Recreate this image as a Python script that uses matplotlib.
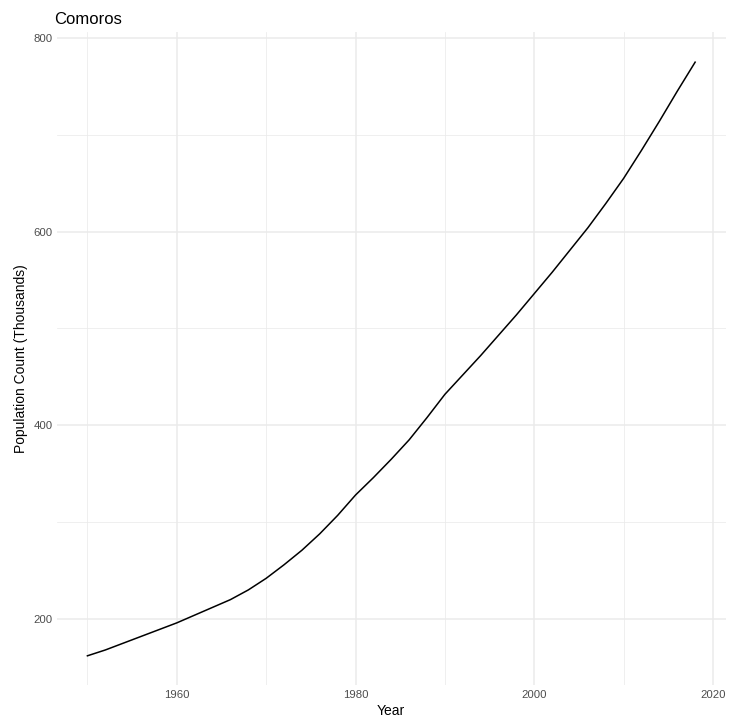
import matplotlib
matplotlib.use("Agg")
from matplotlib import pyplot as plt
from matplotlib.ticker import MultipleLocator


# Population of Comoros (thousands)
years = [1950, 1952, 1954, 1956, 1958, 1960, 1962, 1964, 1966, 1968,
         1970, 1972, 1974, 1976, 1978, 1980, 1982, 1984, 1986, 1988,
         1990, 1992, 1994, 1996, 1998, 2000, 2002, 2004, 2006, 2008,
         2010, 2012, 2014, 2016, 2018]
population = [162, 168, 175, 182, 189, 196, 204, 212, 220, 230,
              242, 256, 271, 288, 307, 328, 346, 365, 385, 408,
              432, 452, 472, 493, 514, 536, 558, 581, 604, 629,
              655, 684, 714, 745, 775]

title = "Comoros"
x_label = "Year"
y_label = "Population Count (Thousands)"


plt.rcParams['font.family'] = ['Liberation Sans', 'DejaVu Sans']

fig = plt.figure(figsize=(7.33, 7.28), dpi=100)
ax = fig.add_axes([0.0778, 0.0584, 0.912, 0.897])

ax.plot(years, population, color="black", linewidth=1.1, solid_joinstyle="round")

# ggplot-like expansion of 5% on both axes
xr = max(years) - min(years)
yr = max(population) - min(population)
ax.set_xlim(min(years) - 0.05 * xr, max(years) + 0.05 * xr)
ax.set_ylim(min(population) - 0.05 * yr, max(population) + 0.05 * yr)

ax.xaxis.set_major_locator(MultipleLocator(20))
ax.xaxis.set_minor_locator(MultipleLocator(10))
ax.yaxis.set_major_locator(MultipleLocator(200))
ax.yaxis.set_minor_locator(MultipleLocator(100))

ax.grid(which="major", color="#EBEBEB", linewidth=1.1)
ax.grid(which="minor", color="#EBEBEB", linewidth=0.55)
ax.set_axisbelow(True)

for s in ax.spines.values():
    s.set_visible(False)
ax.tick_params(which="both", length=0)
ax.tick_params(axis="both", labelsize=8.2, labelcolor="#4D4D4D", pad=3)

ax.set_xlabel(x_label, fontsize=10, labelpad=3)
ax.set_ylabel(y_label, fontsize=10, labelpad=4)
ax.set_title(title, fontsize=12, loc="left", pad=6, x=-0.004)

fig.savefig("out.png", dpi=100)
